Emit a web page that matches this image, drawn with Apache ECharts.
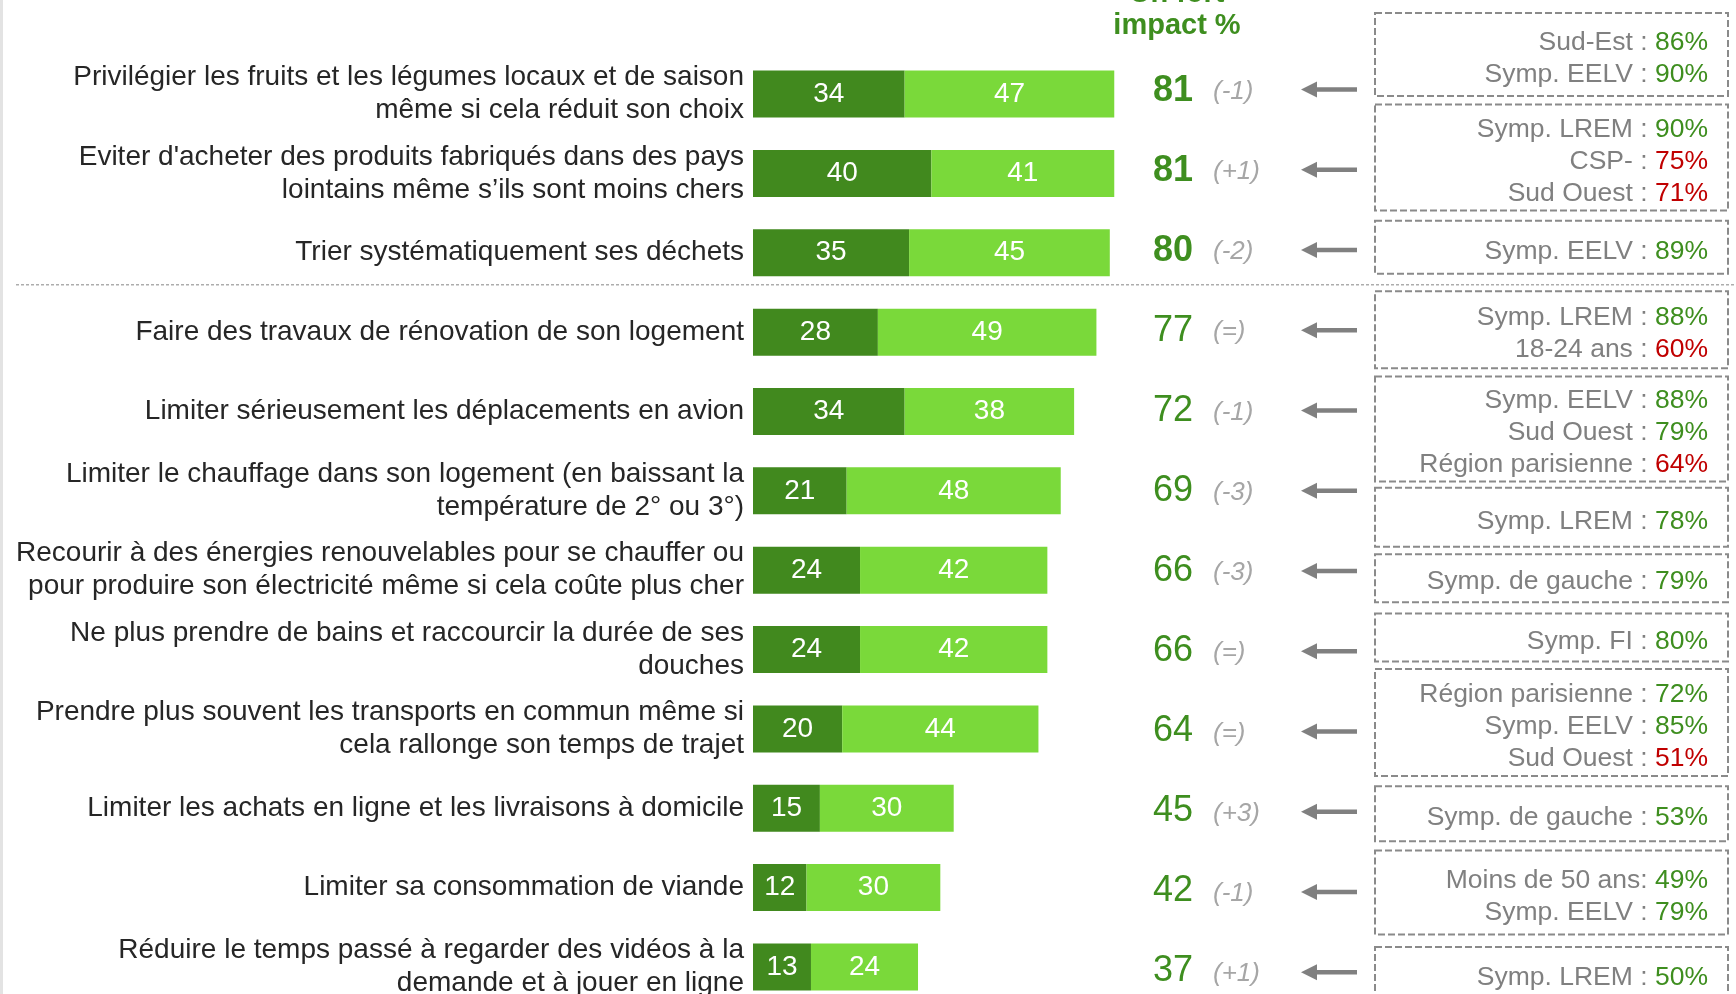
<!DOCTYPE html>
<html>
<head>
<meta charset="utf-8">
<script src="https://cdn.jsdelivr.net/npm/echarts@6/dist/echarts.min.js"></script>
<style>
  html, body { margin: 0; padding: 0; background: #fff; }
  #chart { width: 1736px; height: 994px; }
</style>
</head>
<body>
<div id="chart"></div>
<script>
//行为类别
var categories = [
  "Privilégier les fruits et les légumes locaux et de saison\nmême si cela réduit son choix",
  "Eviter d'acheter des produits fabriqués dans des pays\nlointains même s’ils sont moins chers",
  "Trier systématiquement ses déchets",
  "Faire des travaux de rénovation de son logement",
  "Limiter sérieusement les déplacements en avion",
  "Limiter le chauffage dans son logement (en baissant la\ntempérature de 2° ou 3°)",
  "Recourir à des énergies renouvelables pour se chauffer ou\npour produire son électricité même si cela coûte plus cher",
  "Ne plus prendre de bains et raccourcir la durée de ses\ndouches",
  "Prendre plus souvent les transports en commun même si\ncela rallonge son temps de trajet",
  "Limiter les achats en ligne et les livraisons à domicile",
  "Limiter sa consommation de viande",
  "Réduire le temps passé à regarder des vidéos à la\ndemande et à jouer en ligne"
];
//深绿 / 浅绿
var darkValues = [34, 40, 35, 28, 34, 21, 24, 24, 20, 15, 12, 13];
var lightValues = [47, 41, 45, 49, 38, 48, 42, 42, 44, 30, 30, 24];
//变化
var changes = ["-1", "+1", "-2", "=", "-1", "-3", "-3", "=", "=", "+3", "-1", "+1"];
//右侧注释
var notes = [
  [["Sud-Est : ", 86], ["Symp. EELV : ", 90]],
  [["Symp. LREM : ", 90], ["CSP- : ", 75], ["Sud Ouest : ", 71]],
  [["Symp. EELV : ", 89]],
  [["Symp. LREM : ", 88], ["18-24 ans : ", 60]],
  [["Symp. EELV : ", 88], ["Sud Ouest : ", 79], ["Région parisienne : ", 64]],
  [["Symp. LREM : ", 78]],
  [["Symp. de gauche : ", 79]],
  [["Symp. FI : ", 80]],
  [["Région parisienne : ", 72], ["Symp. EELV : ", 85], ["Sud Ouest : ", 51]],
  [["Symp. de gauche : ", 53]],
  [["Moins de 50 ans: ", 49], ["Symp. EELV : ", 79]],
  [["Symp. LREM : ", 50]]
];
var headerLines = ["Un fort", "impact %"];

//布局 (框相对行中心的上下偏移)
var boxTop = [-81, -69, -32, -41, -35, -3, -16, -36, -60, -22, -37, -20];
var boxBottom = [2, 37, 21, 36, 70, 56, 32, 12, 47, 33, 47, 34];

var FONT = '"Liberation Sans", Arial, sans-serif';
var DARK = '#41891E';
var LIGHT = '#7AD93A';
var GREEN = '#3E8E1F';
var RED = '#C00000';
var GREY = '#808080';

var myChart = echarts.init(document.getElementById('chart'));

function renderSide(params, api) {
  var i = api.value(1);
  var y = api.coord([0, i])[1];
  //右列行距略大于条形
  var yr = y - 4.7 + 0.9 * i;
  var total = darkValues[i] + lightValues[i];
  var children = [];

  //总数 + 变化
  children.push({
    type: 'text',
    style: {
      x: 1153, y: y - 2.9 + 0.6 * i, text: String(total), fill: GREEN,
      fontSize: 36, fontWeight: i < 3 ? 'bold' : 'normal', fontFamily: FONT,
      align: 'left', verticalAlign: 'middle'
    }
  });
  children.push({
    type: 'text',
    style: {
      x: 1213, y: yr + 2, text: '(' + changes[i] + ')', fill: '#A6A6A6',
      fontSize: 26, fontStyle: 'italic', fontFamily: FONT,
      align: 'left', verticalAlign: 'middle'
    }
  });

  //箭头
  children.push({
    type: 'line',
    shape: { x1: 1315, y1: yr, x2: 1357, y2: yr },
    style: { stroke: GREY, lineWidth: 4.5 }
  });
  children.push({
    type: 'polygon',
    shape: { points: [[1301, yr], [1317, yr - 8], [1317, yr + 8]] },
    style: { fill: GREY }
  });

  //虚线框
  var top = y + boxTop[i];
  var bottom = y + boxBottom[i];
  children.push({
    type: 'rect',
    shape: { x: 1375, y: top, width: 353, height: bottom - top },
    style: { fill: null, stroke: '#8A8A8A', lineWidth: 2, lineDash: [7, 3] }
  });
  var lines = notes[i];
  var mid = (top + bottom) / 2 + 4;
  lines.forEach(function (ln, k) {
    var up = ln[1] > total;
    children.push({
      type: 'text',
      style: {
        x: 1708, y: mid + (k - (lines.length - 1) / 2) * 32,
        text: '{l|' + ln[0] + '}{v|' + ln[1] + '%}',
        align: 'right', verticalAlign: 'middle',
        fontSize: 26.5, fontFamily: FONT,
        rich: {
          l: { fill: GREY, fontSize: 26.5, fontFamily: FONT },
          v: { fill: up ? GREEN : RED, fontSize: 26.5, fontFamily: FONT }
        }
      }
    });
  });

  //分隔线
  if (i === 2) {
    children.push({
      type: 'line',
      shape: { x1: 16, y1: y + 32, x2: 1736, y2: y + 32 },
      style: { stroke: '#ADADAD', lineWidth: 1.5, lineDash: [3, 2] }
    });
  }
  return { type: 'group', children: children };
}

var barLabel = {
  show: true,
  position: 'inside',
  color: '#fff',
  fontSize: 28,
  fontFamily: FONT
};

var option = {
  animation: false,
  grid: {
    left: 753, top: 54.4, width: 446, height: 952.2,
    containLabel: false, outerBoundsMode: 'none'
  },
  xAxis: { type: 'value', min: 0, max: 100, show: false },
  yAxis: {
    type: 'category',
    inverse: true,
    data: categories,
    axisLine: { show: false },
    axisTick: { show: false },
    splitLine: { show: false },
    axisLabel: {
      interval: 0, margin: 9, fontSize: 28, lineHeight: 33,
      color: '#262626', fontFamily: FONT
    }
  },
  graphic: [
    { type: 'rect', shape: { x: 0, y: 0, width: 3, height: 994 }, style: { fill: '#E3E3E3' } },
    {
      type: 'text',
      style: {
        x: 1177, y: -6, text: headerLines[0], fill: GREEN,
        fontSize: 29, fontWeight: 'bold', fontFamily: FONT,
        align: 'center', verticalAlign: 'middle'
      }
    },
    {
      type: 'text',
      style: {
        x: 1177, y: 26, text: headerLines[1], fill: GREEN,
        fontSize: 29, fontWeight: 'bold', fontFamily: FONT,
        align: 'center', verticalAlign: 'middle'
      }
    }
  ],
  series: [
    {
      type: 'bar', stack: 'total', barWidth: 47,
      data: darkValues, itemStyle: { color: DARK }, label: barLabel
    },
    {
      type: 'bar', stack: 'total', barWidth: 47,
      data: lightValues, itemStyle: { color: LIGHT }, label: barLabel
    },
    {
      type: 'custom',
      silent: true,
      renderItem: renderSide,
      data: categories.map(function (c, i) { return [0, i]; })
    }
  ]
};

myChart.setOption(option);
</script>
</body>
</html>
